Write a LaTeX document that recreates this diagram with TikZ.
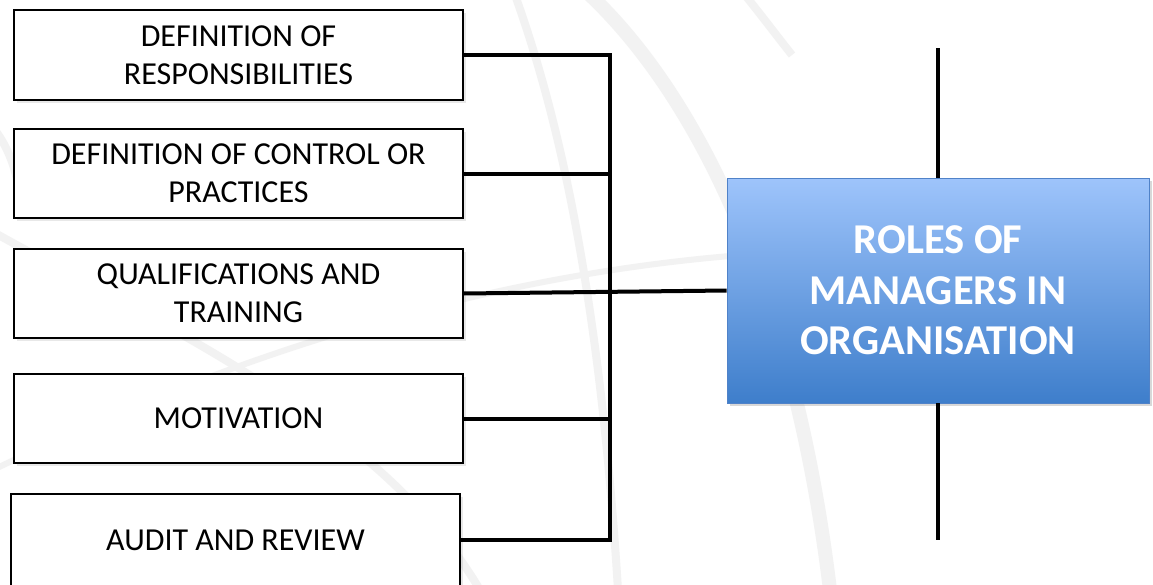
\documentclass[tikz,border=0pt]{standalone}
\usepackage{fontspec}
\setmainfont{Carlito}
\usetikzlibrary{shadows,calc}
\definecolor{rtop}{RGB}{158,196,251}
\definecolor{rbot}{RGB}{62,126,203}
\definecolor{rborder}{RGB}{80,130,200}
\definecolor{bgarc}{RGB}{242,242,242}
\tikzset{
  itembox/.style={draw=black, line width=1.2pt, fill=white, rectangle,
    minimum width=449, minimum height=90, inner sep=0pt, align=center,
    font=\fontsize{32}{38}\selectfont,
    drop shadow={opacity=0.18, shadow xshift=3pt, shadow yshift=-3pt}},
  rolebox/.style={draw=rborder, line width=0.8pt, rectangle,
    top color=rtop, bottom color=rbot,
    minimum width=422, minimum height=225, inner sep=0pt, align=center,
    text=white, font=\fontsize{42.5}{50.5}\selectfont\bfseries,
    drop shadow={opacity=0.3, shadow xshift=3pt, shadow yshift=-3pt}},
  conn/.style={line width=4pt, draw=black},
  vline/.style={line width=3.5pt, draw=black},
  bgband/.style={draw=bgarc, line width=8pt}
}
\begin{document}
\begin{tikzpicture}[x=1pt,y=-1pt]
\useasboundingbox (0,0) rectangle (1153,584);
\clip (0,0) rectangle (1153,584);
\fill[white] (0,0) rectangle (1153,584);
% faint background arcs
\draw[bgband, line width=14pt] (590,-5) .. controls (680,80) and (790,260) .. (830,590);
\draw[bgband] (515,-5) .. controls (560,120) and (600,300) .. (618,590);
\draw[bgband, line width=6pt] (-5,469) .. controls (200,370) and (450,280) .. (730,256);
\draw[bgband] (-5,233) .. controls (150,320) and (380,420) .. (480,590);
\draw[bgband] (745,-5) .. controls (765,20) and (780,40) .. (792,55);
\draw[bgband] (-5,130) .. controls (10,150) and (18,175) .. (20,200);
% nodes
\node[itembox] (b1) at (238.5,55) {DEFINITION OF\\RESPONSIBILITIES};
\node[itembox, minimum height=89] (b2) at (238.5,173.5) {DEFINITION OF CONTROL OR\\PRACTICES};
\node[itembox, minimum height=89] (b3) at (238.5,293.5) {QUALIFICATIONS AND\\TRAINING};
\node[itembox, minimum height=89] (b4) at (238.5,418.5) {MOTIVATION};
\node[itembox, minimum height=92] (b5) at (235.5,540) {AUDIT AND REVIEW};
\node[rolebox] (roles) at (938,290.5) {ROLES OF\\MANAGERS IN\\ORGANISATION};
\coordinate (bus) at (610,0);
\coordinate (vt) at (938,48);
\coordinate (vb) at (938,540);
% connectors
\draw[conn, line join=miter] (b1.east) -- (b1.east -| bus) -- (b5.east -| bus) -- (b5.east);
\draw[conn] (b2.east) -- (b2.east -| bus);
\draw[conn] (b4.east) -- (b4.east -| bus);
\draw[conn] (b3.east) -- (roles.west);
\draw[vline] (vt) -- (roles.north);
\draw[vline] (roles.south) -- (vb);
\end{tikzpicture}
\end{document}
